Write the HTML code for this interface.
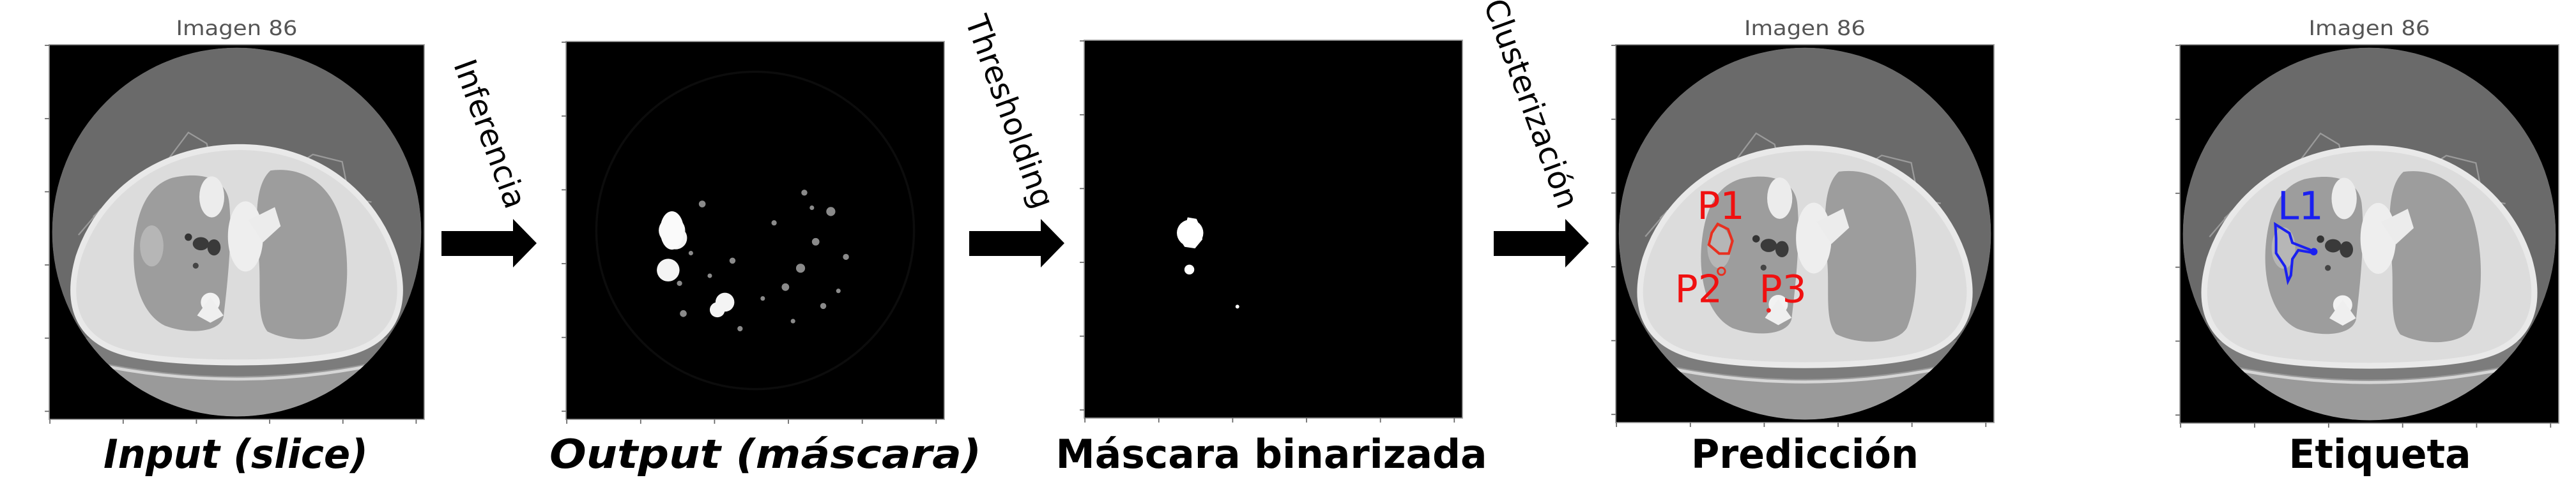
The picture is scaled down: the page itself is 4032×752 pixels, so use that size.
<!DOCTYPE html>
<html><head><meta charset="utf-8"><style>
html,body{margin:0;padding:0;background:#fff;width:4032px;height:752px;overflow:hidden}
svg{display:block}
</style></head><body>
<svg id="fig" width="4032" height="752" viewBox="0 0 4032 752" xmlns="http://www.w3.org/2000/svg">
<defs>
<clipPath id="fov"><circle cx="256" cy="256" r="252"/></clipPath>
<symbol id="ct" viewBox="0 0 512 512">
<rect width="512" height="512" fill="#000"/>
<g clip-path="url(#fov)">
<circle cx="256" cy="256" r="252" fill="#6a6a6a"/>
<path d="M40 420 Q256 470 472 420 L512 512 L0 512 Z" fill="#9a9a9a"/>
<path d="M50 400 Q256 450 462 400 L462 430 Q256 476 50 430 Z" fill="#7c7c7c"/>
<path d="M60 436 Q256 478 452 436" stroke="#d6d6d6" stroke-width="4" fill="none"/>
</g>
<path d="M60 235 L110 190 L160 160 L190 120 L215 135 L225 175 L250 170 M330 170 L360 150 L400 160 L410 210 L440 215 M40 260 L70 225 L100 215 M90 300 L110 250" stroke="#9a9a9a" stroke-width="2" fill="none"/>
<path d="M256 140 C365 138 445 205 472 290 C492 360 470 408 400 423 C330 438 182 438 112 423 C42 408 20 360 40 290 C68 205 147 142 256 140 Z" fill="#dcdcdc" stroke="#e9e9e9" stroke-width="8"/>
<path d="M168 182 C212 172 244 185 246 218 C250 262 244 322 238 372 C232 394 190 396 158 384 C126 368 112 322 116 272 C120 224 136 192 168 182 Z" fill="#9d9d9d"/>
<path d="M302 172 C346 166 384 190 398 240 C412 292 408 352 394 384 C380 406 330 408 298 392 C282 372 290 330 286 290 C282 240 280 192 302 172 Z" fill="#9d9d9d"/>
<ellipse cx="222" cy="208" rx="17" ry="28" fill="#ececec"/>
<ellipse cx="268" cy="262" rx="24" ry="48" fill="#eeeeee"/>
<path d="M272 240 L308 222 L316 248 L292 270 Z" fill="#ececec"/>
<ellipse cx="140" cy="275" rx="16" ry="28" fill="#b6b6b6"/>
<ellipse cx="207" cy="272" rx="11" ry="9" fill="#3a3a3a"/>
<ellipse cx="225" cy="277" rx="9" ry="11" fill="#3a3a3a"/>
<circle cx="190" cy="263" r="5" fill="#333"/>
<circle cx="200" cy="302" r="4" fill="#444"/>
<circle cx="220" cy="352" r="13" fill="#f2f2f2"/>
<path d="M202 370 L220 345 L238 370 L220 380 Z" fill="#efefef"/>
</symbol>
</defs>
<rect width="4032" height="752" fill="#fff"/>
<g id="panels"></g>
<g id="labels"></g>
</svg>
<script>
// panel geometry (frame placement)
const panelX = [77, 886, 1697, 2529, 3412];
const panelY = [70, 65, 63, 70, 70];
const panelS = [587, 592, 592, 592, 593];
// blob data for the network output (fractions of image)
const outBlobX = [0.28, 0.29, 0.27, 0.42, 0.40, 0.62, 0.70, 0.66, 0.58, 0.36, 0.31, 0.44, 0.68, 0.63, 0.30, 0.46, 0.74, 0.55, 0.33, 0.38, 0.60, 0.72, 0.65, 0.52];
const outBlobY = [0.50, 0.52, 0.605, 0.69, 0.71, 0.60, 0.45, 0.53, 0.65, 0.43, 0.72, 0.58, 0.70, 0.40, 0.64, 0.76, 0.57, 0.48, 0.56, 0.62, 0.74, 0.66, 0.44, 0.68];
const outBlobR = [0.035, 0.03, 0.03, 0.025, 0.02, 0.012, 0.012, 0.01, 0.01, 0.009, 0.009, 0.008, 0.008, 0.008, 0.007, 0.007, 0.008, 0.007, 0.006, 0.006, 0.006, 0.006, 0.006, 0.006];
// binarized mask components
const maskX = [0.28, 0.278, 0.405];
const maskY = [0.51, 0.607, 0.705];
const maskR = [0.035, 0.013, 0.005];
const NS = 'http://www.w3.org/2000/svg';
const root = document.getElementById('panels');
function mk(tag, attrs, parent){const e=document.createElementNS(NS,tag);for(const k in attrs)e.setAttribute(k,attrs[k]);parent.appendChild(e);return e;}
const panelNames = ['input-image','output-mask','binary-mask','prediction-image','label-image'];
for(let i=0;i<5;i++){
  const g = mk('g',{transform:`translate(${panelX[i]},${panelY[i]}) scale(${panelS[i]/512})`},root);
  
  
  if(i===0||i===3||i===4){ mk('use',{href:'#ct',width:512,height:512},g); }
  else { mk('rect',{width:512,height:512,fill:'#000'},g); }
  if(i===1){
    mk('circle',{cx:256,cy:256,r:215,fill:'none',stroke:'#0c0c0c','stroke-width':3},g);
    for(let k=0;k<outBlobX.length;k++){
      const c = mk('circle',{cx:outBlobX[k]*512,cy:outBlobY[k]*512,r:outBlobR[k]*512,fill:k<5?'#f4f4f4':'#8a8a8a'},g);
      
      
    }
    mk('ellipse',{cx:0.28*512,cy:0.5*512,rx:16,ry:26,fill:'#fafafa'},g);
  }
  if(i===2){
    for(let k=0;k<maskX.length;k++){
      const c = mk('circle',{cx:maskX[k]*512,cy:maskY[k]*512,r:maskR[k]*512,fill:'#fff'},g);
      
      
    }
    mk('path',{d:'M140 240 L152 242 L158 255 L160 270 L150 282 L136 280 L128 268 L136 255 Z',fill:'#fff'},g);
  }
  if(i===3){
    const p = mk('path',{d:'M138 243 L152 250 L158 266 L153 283 L140 283 L126 271 L130 255 Z',fill:'none',stroke:'#e83020','stroke-width':3.5},g);
    
    
    mk('circle',{cx:143,cy:307,r:5,fill:'none',stroke:'#e83020','stroke-width':2.5},g);
    mk('circle',{cx:207,cy:360,r:3,fill:'#e82020'},g);
    [['P1',110,236],['P2',80,349],['P3',194,349]].forEach(t=>{
      const e = mk('text',{x:t[1],y:t[2],'font-family':'DejaVu Sans, sans-serif','font-size':52,fill:'#f01010'},g);
      e.textContent=t[0];
      
      
    });
  }
  if(i===4){
    const p = mk('path',{d:'M129 243 L148 255 L152 268 L175 277 L183 282 L160 278 L152 290 L150 312 L146 320 L142 300 L130 282 L130 262 Z',fill:'none',stroke:'#1a20f0','stroke-width':3.5},g);
    
    
    mk('circle',{cx:181,cy:280,r:5,fill:'#1a20f0'},g);
    const e = mk('text',{x:132,y:236,'font-family':'DejaVu Sans, sans-serif','font-size':52,fill:'#1a20f0'},g);
    e.textContent='L1';
    
    
  }
  mk('rect',{x:0,y:0,width:512,height:512,fill:'none',stroke:'#999','stroke-width':1.5},g);
  for(let t=0;t<=5;t++){
    mk('line',{x1:-6,y1:t*100+1,x2:0,y2:t*100+1,stroke:'#666','stroke-width':1.5},g);
    mk('line',{x1:t*100+1,y1:512,x2:t*100+1,y2:518,stroke:'#666','stroke-width':1.5},g);
  }
}
const L = document.getElementById('labels');
[0,3,4].forEach(i=>{
  const e = mk('text',{x:panelX[i]+panelS[i]/2,y:55,'text-anchor':'middle','font-family':'DejaVu Sans Condensed, DejaVu Sans, sans-serif','font-size':32,fill:'#555',textLength:190,lengthAdjust:'spacingAndGlyphs'},L);
  e.textContent='Imagen 86';
  
  
});
const caps = [['Input (slice)',369,414,true],['Output (máscara)',1198,676,true],['Máscara binarizada',1990,675,false],['Predicción',2825,356,false],['Etiqueta',3725,285,false]];
caps.forEach(c=>{
  const e = mk('text',{x:c[1],y:733,'text-anchor':'middle','font-family':'DejaVu Sans Condensed, DejaVu Sans, sans-serif','font-weight':'bold','font-style':c[3]?'oblique':'normal','font-size':62,fill:'#000',textLength:c[2],lengthAdjust:'spacingAndGlyphs'},L);
  e.textContent=c[0];
  
  
});
const arrowX0 = [691, 1517, 2338];
const arrowX1 = [840, 1666, 2487];
arrowX0.forEach((x0,k)=>{
  const x1 = arrowX1[k], hx = x1-37;
  const a = mk('path',{d:`M${x0} 362 L${hx} 362 L${hx} 343 L${x1} 381 L${hx} 419 L${hx} 401 L${x0} 401 Z`,fill:'#000'},L);
  
  
});
const steps = [['Inferencia',793],['Thresholding',1619],['Clusterización',2440]];
steps.forEach(s=>{
  const e = mk('text',{x:0,y:0,'text-anchor':'end','font-family':'DejaVu Sans, sans-serif','font-size':49,fill:'#000',transform:`translate(${s[1]},330) rotate(70)`},L);
  e.textContent=s[0];
  
  
});
</script>
</body></html>
